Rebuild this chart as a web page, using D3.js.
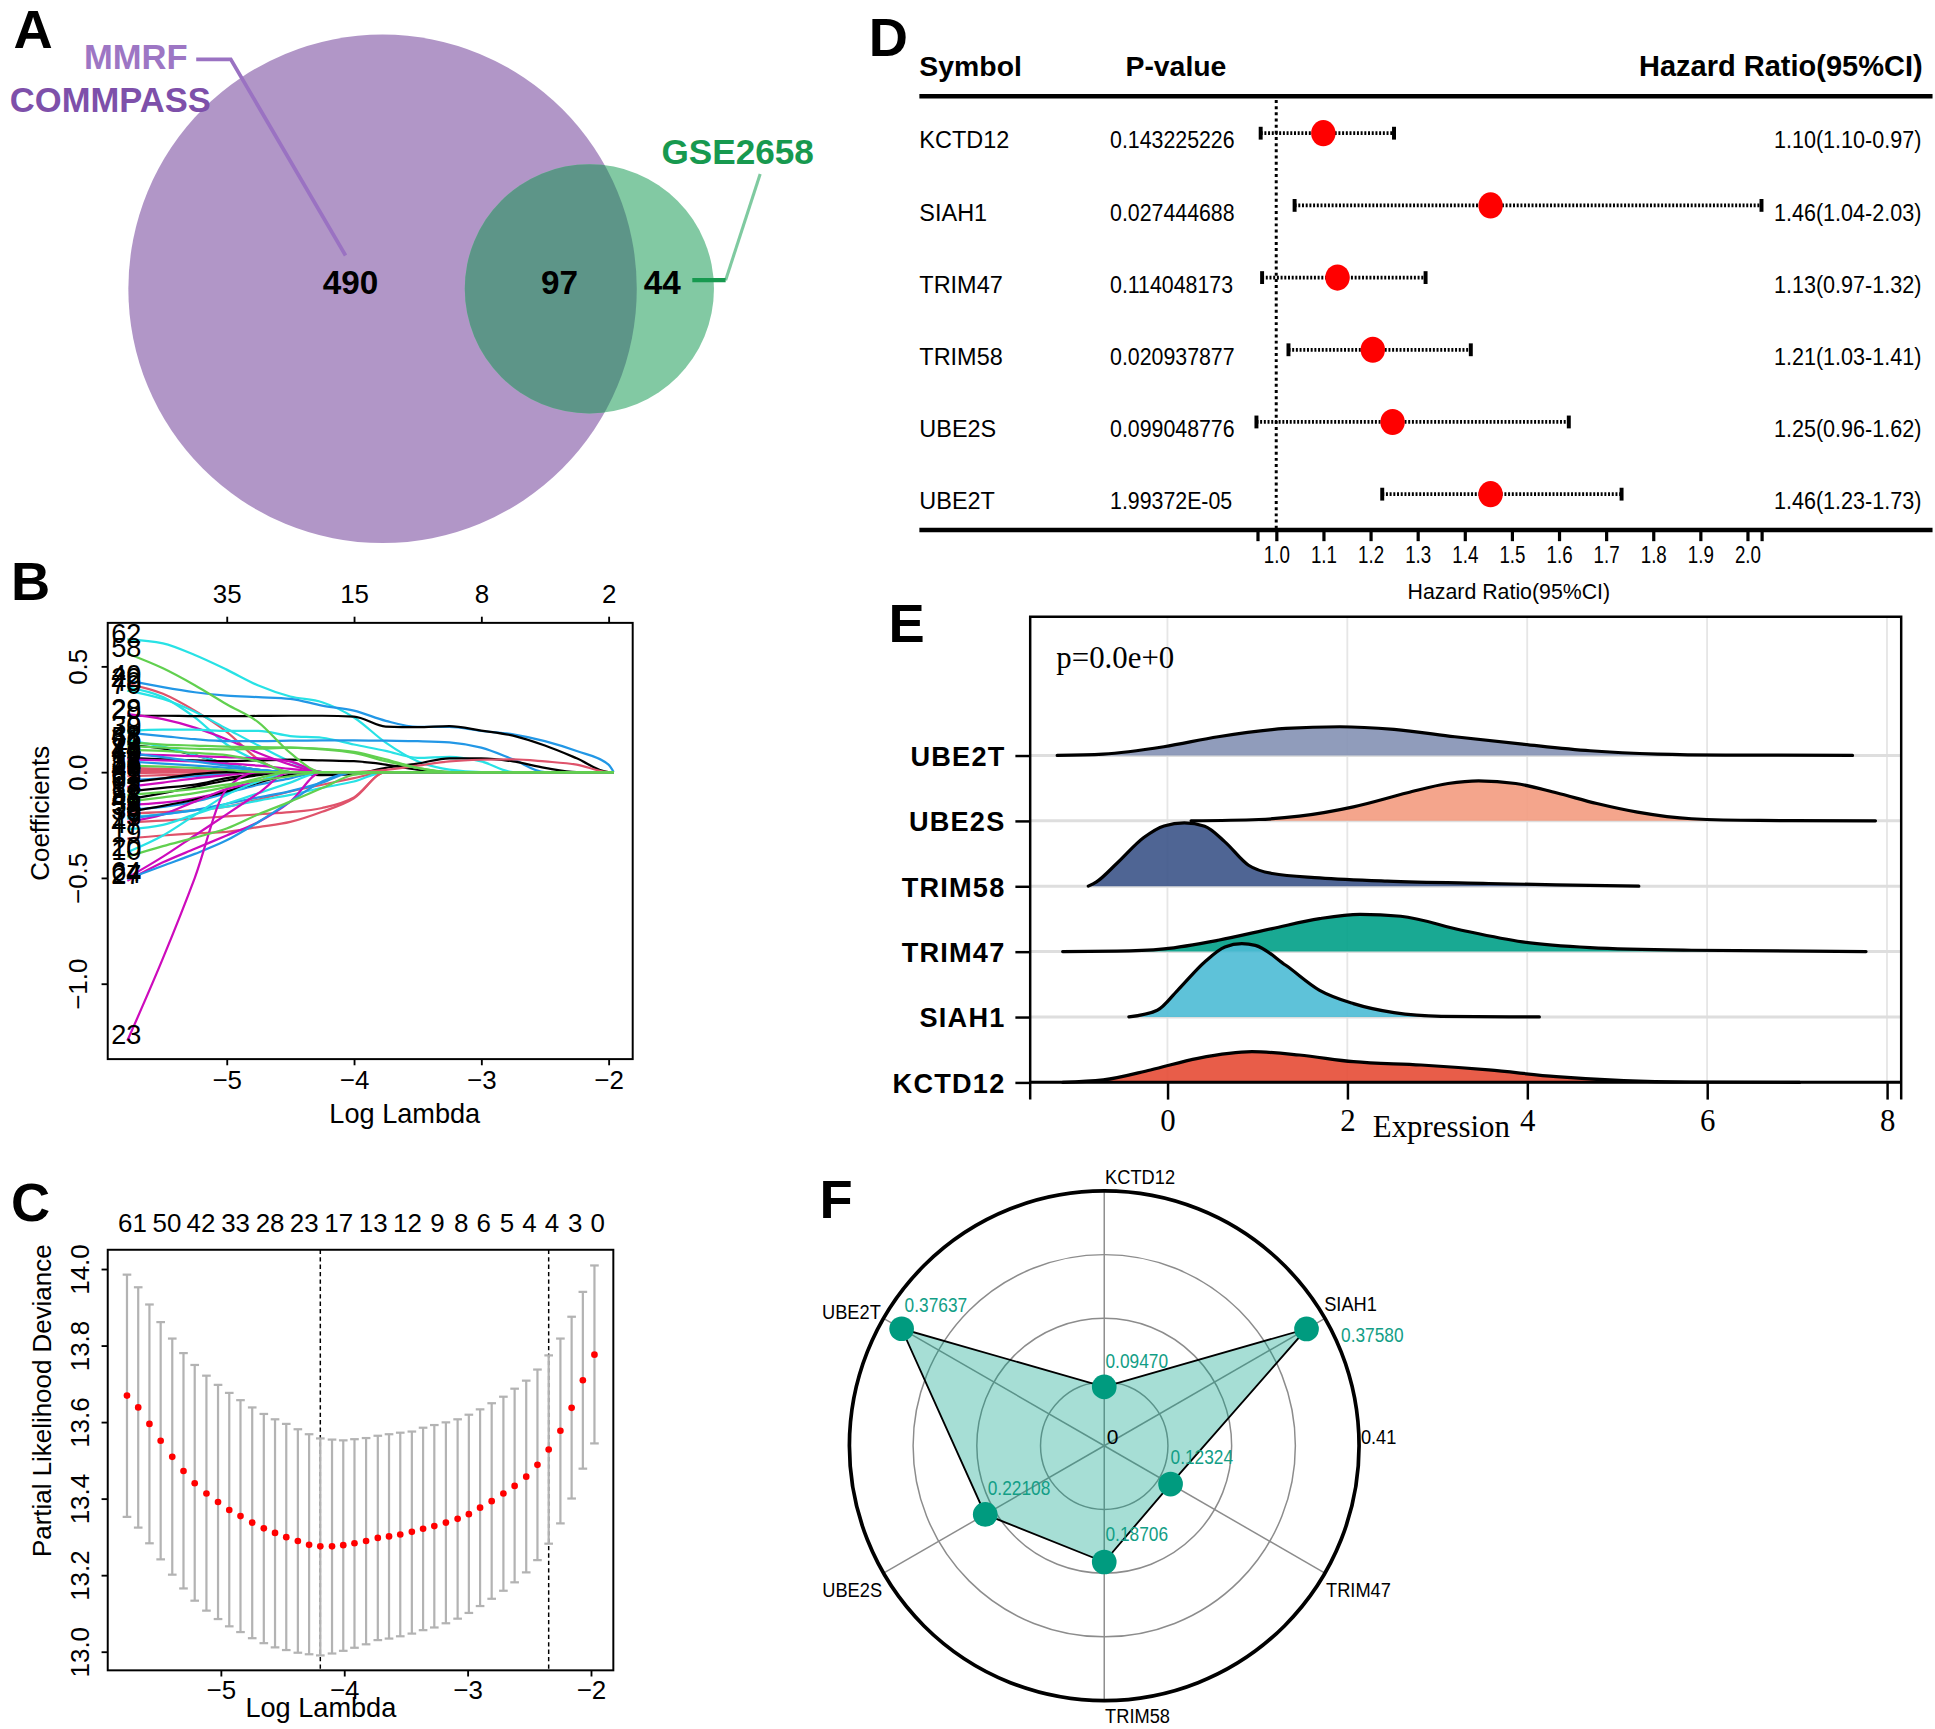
<!DOCTYPE html>
<html>
<head>
<meta charset="utf-8">
<title>Figure</title>
<style>
body { margin: 0; background: #fff; }
</style>
</head>
<body>
<script src="https://cdn.jsdelivr.net/npm/d3@7/dist/d3.min.js"></script>
<script>

// ---------- A : venn ----------
var vennSets   = ["MMRF COMMPASS", "GSE2658"];
var vennCounts = [490, 97, 44];          // only MMRF, both, only GSE2658

// ---------- B : lasso coefficient paths ----------
var bKnots = [-5.78, -5.5, -5.25, -5.0, -4.75, -4.5, -4.25, -4.0, -3.75, -3.5, -3.25, -3.0, -2.75, -2.5, -2.25, -2.0, -1.96];
var bTopTicks  = [-5, -4, -3, -2];
var bTopLabels = ["35", "15", "8", "2"];
var bLabels = ["62","22","40","49","70","29","28","30","8","66","42","45","17","36","44","9","33","51","2","65",
               "14","26","48","18","41","54","59","52","61","57","5","35","15","7","6","47","19","20","27","24",
               "64","23","3","53","12","31","38","10","58","11"];
var bColorIdx = [4,1,3,4,4,0,5,4,3,0,4,0,0,1,5,5,1,1,3,3,
                 3,1,1,0,5,3,0,0,5,0,1,4,5,1,3,4,1,4,5,3,
                 5,5,2,2,2,2,2,2,2,2];
var bCoefs = [
  [0.627,0.608,0.553,0.484,0.409,0.357,0.330,0.258,0.139,0.051,0.011,0],
  [0.417,0.37,0.29,0.19,0.06,0],
  [0.433,0.401,0.377,0.361,0.354,0.346,0.314,0.29,0.242,0.213,0.213,0.194,0.178,0.146,0.099,0.035,0],
  [0.40,0.354,0.258,0.13,0.051,0],
  [0.385,0.345,0.285,0.205,0.125,0.05,0],
  [0.266,0.266,0.264,0.264,0.265,0.266,0.266,0.262,0.215,0.212,0.217,0.196,0.172,0.125,0.065,0],
  [0.274,0.25,0.21,0.155,0.09,0.035,0],
  [0.194,0.2,0.2,0.194,0.194,0.17,0.162,0.13,0.1,0.067,0.072,0.05,0],
  [0.186,0.17,0.155,0.146,0.146,0.148,0.15,0.15,0.148,0.146,0.14,0.115,0.06,0],
  [0.13,0.11,0.08,0.04,0.01,0],
  [0.15,0.12,0.08,0.04,0.01,0],
  [0.067,0.06,0.055,0.051,0.055,0.059,0.055,0.051,0.035,0.011,0],
  [0.011,0.008,0.005,0.003,0.001,0,-0.015,-0.01,0.02,0.04,0.065,0.064,0.05,0.02,0],
  [0.01,0.008,0.005,0.003,0,0,0,0,0.01,0.03,0.05,0.058,0.06,0.05,0.035,0],
  [0.083,0.08,0.075,0.07,0.065,0.05,0],
  [0.06,0.055,0.05,0.04,0.03,0.015,0],
  [0.02,0.015,0.01,0.005,0],
  [-0.02,-0.015,-0.01,0],
  [0.05,0.04,0.03,0.02,0.01,0],
  [-0.04,-0.03,-0.02,-0.01,0],
  [0.09,0.07,0.05,0.03,0.01,0],
  [0.005,0.003,0],
  [-0.005,-0.003,0],
  [-0.092,-0.075,-0.06,-0.029,-0.01,0],
  [-0.156,-0.145,-0.124,-0.09,-0.045,0],
  [-0.18,-0.165,-0.14,-0.1,-0.06,-0.03,0],
  [-0.188,-0.16,-0.13,-0.092,-0.05,-0.013,0],
  [-0.13,-0.1,-0.07,-0.04,-0.015,0],
  [-0.07,-0.05,-0.03,-0.015,0],
  [-0.05,-0.03,-0.01,0],
  [-0.196,-0.19,-0.18,-0.164,-0.13,-0.092,-0.06,-0.029,0],
  [-0.212,-0.2,-0.18,-0.164,-0.135,-0.108,-0.075,-0.045,0],
  [-0.236,-0.2,-0.14,-0.08,-0.045,0],
  [-0.238,-0.23,-0.22,-0.21,-0.2,-0.19,-0.17,-0.12,0],
  [-0.22,-0.2,-0.18,-0.15,-0.12,-0.09,-0.05,0],
  [-0.27,-0.25,-0.2,-0.15,-0.1,-0.05,0],
  [-0.315,-0.3,-0.29,-0.283,-0.26,-0.236,-0.188,-0.124,0],
  [-0.379,-0.3,-0.204,-0.108,-0.045,0],
  [-0.514,-0.427,-0.363,-0.3,-0.236,-0.14,0],
  [-0.506,-0.443,-0.387,-0.323,-0.236,-0.14,-0.045,0],
  [-0.5,-0.4,-0.3,-0.2,-0.1,0],
  [-1.27,-0.88,-0.5,-0.08,0],
  [0.105,0.1,0.09,0.08,0.05,0],
  [0.14,0.13,0.125,0.12,0.118,0.115,0.11,0.095,0.06,0.02,0],
  [-0.108,-0.095,-0.08,-0.06,-0.04,-0.02,0],
  [0.03,0.025,0.02,0.01,0],
  [-0.14,-0.12,-0.1,-0.07,-0.03,0],
  [-0.40,-0.35,-0.31,-0.267,-0.2,-0.14,-0.076,-0.013,0],
  [0.56,0.49,0.41,0.32,0.235,0.09,0],
  [0.123,0.115,0.11,0.107,0.11,0.115,0.107,0.09,0.051,0.019,0]
];

// ---------- C : cross-validation deviance ----------
var cLogLambda = [-5.76,-5.669,-5.578,-5.487,-5.393,-5.302,-5.211,-5.116,-5.022,-4.931,-4.84,-4.745,-4.651,-4.56,
                  -4.469,-4.375,-4.284,-4.193,-4.098,-4.007,-3.916,-3.822,-3.727,-3.636,-3.545,-3.451,-3.36,-3.269,
                  -3.175,-3.08,-2.989,-2.898,-2.804,-2.709,-2.618,-2.524,-2.433,-2.342,-2.247,-2.156,-2.065,-1.971];
var cMean  = [13.669,13.638,13.595,13.551,13.509,13.472,13.440,13.413,13.391,13.370,13.354,13.337,13.322,13.310,
              13.299,13.289,13.279,13.275,13.275,13.278,13.283,13.289,13.297,13.301,13.306,13.313,13.321,13.328,
              13.337,13.347,13.359,13.376,13.393,13.413,13.433,13.457,13.488,13.528,13.577,13.637,13.709,13.776];
var cUpper = [13.985,13.952,13.907,13.861,13.818,13.780,13.749,13.721,13.697,13.676,13.657,13.638,13.621,13.607,
              13.595,13.581,13.568,13.557,13.554,13.552,13.555,13.558,13.564,13.568,13.572,13.575,13.585,13.592,
              13.599,13.607,13.619,13.633,13.649,13.666,13.687,13.708,13.737,13.774,13.818,13.875,13.940,14.009];
var cLower = [13.352,13.324,13.283,13.241,13.201,13.165,13.133,13.107,13.085,13.066,13.051,13.035,13.022,13.011,
              13.004,12.997,12.993,12.990,12.995,13.002,13.010,13.019,13.030,13.034,13.040,13.047,13.056,13.063,
              13.074,13.086,13.101,13.119,13.138,13.159,13.181,13.207,13.239,13.282,13.335,13.400,13.478,13.544];
var cTopPos    = [-5.716,-5.436,-5.16,-4.88,-4.6,-4.324,-4.044,-3.764,-3.487,-3.244,-3.05,-2.869,-2.68,-2.498,-2.316,-2.127,-1.945];
var cTopLabels = ["61","50","42","33","28","23","17","13","12","9","8","6","5","4","4","3","0"];
var cLambdaMin = -4.193, cLambda1se = -2.342;

// ---------- D : forest plot ----------
var dSymbols = ["KCTD12","SIAH1","TRIM47","TRIM58","UBE2S","UBE2T"];
var dPvalues = ["0.143225226","0.027444688","0.114048173","0.020937877","0.099048776","1.99372E-05"];
var dHR   = [1.10, 1.455, 1.13, 1.205, 1.247, 1.455];
var dLow  = [0.967, 1.039, 0.97, 1.026, 0.958, 1.225];
var dHigh = [1.25, 2.03, 1.317, 1.413, 1.621, 1.733];
var dHRText = ["1.10(1.10-0.97)","1.46(1.04-2.03)","1.13(0.97-1.32)","1.21(1.03-1.41)","1.25(0.96-1.62)","1.46(1.23-1.73)"];
var dTicks = [0.96,1.0,1.1,1.2,1.3,1.4,1.5,1.6,1.7,1.8,1.9,2.0,2.03];

// ---------- E : ridge densities ----------
var eGenes  = ["KCTD12","SIAH1","TRIM47","TRIM58","UBE2S","UBE2T"];   // bottom to top
var eLabels = ["KCTD12","SIAH1","TRIM47","TRIM58","UBE2S","UBE2T"];
var eColors = ["#E64B35","#4DBBD5","#00A087","#3C5488","#F39B7F","#8491B4"];
var kctd12X = [-1.165,-0.714,-0.188,0.338,0.94,1.466,2.068,2.82,3.571,4.323,5.075,5.827,7.03];
var kctd12D = [0,0.036,0.189,0.367,0.469,0.418,0.316,0.265,0.189,0.087,0.026,0.005,0];
var siah1X  = [-0.429,-0.113,0.113,0.414,0.639,0.827,0.977,1.316,1.692,2.068,2.519,3.045,4.135];
var siah1D  = [0,0.102,0.408,0.842,1.071,1.122,1.097,0.791,0.408,0.204,0.066,0.01,0];
var trim47X = [-1.165,-0.564,-0.038,0.564,1.165,1.692,2.143,2.594,3.271,3.947,4.699,5.827,7.767];
var trim47D = [0,0.005,0.041,0.173,0.352,0.505,0.571,0.541,0.327,0.148,0.061,0.02,0];
var trim58X = [-0.88,-0.789,-0.564,-0.263,-0.038,0.188,0.414,0.639,0.902,1.165,1.692,2.444,3.571,4.323,5.241];
var trim58D = [0,0.066,0.347,0.745,0.923,0.969,0.918,0.679,0.321,0.194,0.128,0.077,0.041,0.02,0];
var ube2sX  = [0.263,1.015,1.466,2.068,2.669,3.12,3.459,3.872,4.323,4.774,5.226,5.827,6.579,7.872];
var ube2sD  = [0,0.02,0.071,0.214,0.429,0.571,0.612,0.571,0.429,0.265,0.133,0.031,0.005,0];
var ube2tX  = [-1.226,-0.714,-0.04,0.564,1.316,1.917,2.519,3.195,3.947,4.699,5.451,6.203,7.617];
var ube2tD  = [0,0.02,0.133,0.286,0.413,0.439,0.398,0.286,0.173,0.071,0.02,0.005,0];
var eTicks = [0, 2, 4, 6, 8];
var ePText = "p=0.0e+0";

// ---------- F : radar ----------
var fGenes  = ["KCTD12","SIAH1","TRIM47","TRIM58","UBE2S","UBE2T"];
var fValues = [0.09470, 0.37580, 0.12324, 0.18706, 0.22108, 0.37637];
var fMax = 0.41;

// ====================================================================
var SANS  = '"Liberation Sans", Arial, Helvetica, sans-serif';
var SERIF = '"Liberation Serif", "Times New Roman", serif';

var svg = d3.select("body").append("svg")
    .attr("width", 1935).attr("height", 1729)
    .attr("viewBox", "0 0 1568 1401")
    .style("font-family", SANS);
svg.append("rect").attr("width", 1568).attr("height", 1401).attr("fill", "#fff");

// squeeze text horizontally (narrow fonts in the original)
function condense(sel, f) {
  sel.each(function() {
    var L = this.getComputedTextLength();
    d3.select(this).attr("textLength", L * f).attr("lengthAdjust", "spacingAndGlyphs");
  });
}

// panel letters
[["A",11,39],["B",9,486],["C",9,989],["D",704,45],["E",720,520],["F",664,987]].forEach(function(p) {
  svg.append("text").attr("x", p[1]).attr("y", p[2]).text(p[0])
     .attr("font-size", 44).attr("font-weight", "bold");
});

// ---------------- A ----------------
(function() {
  var g = svg.append("g");
  var totA = vennCounts[0] + vennCounts[1], totB = vennCounts[1] + vennCounts[2];
  var rs = d3.scaleSqrt().domain([0, totA]).range([0, 206]);
  var rA = rs(totA), rB = rs(totB);
  function lens(r1, r2, d) {
    if (d >= r1 + r2) return 0;
    if (d <= Math.abs(r1 - r2)) return Math.PI * Math.min(r1, r2) * Math.min(r1, r2);
    var a = r1 * r1 * Math.acos((d * d + r1 * r1 - r2 * r2) / (2 * d * r1));
    var b = r2 * r2 * Math.acos((d * d + r2 * r2 - r1 * r1) / (2 * d * r2));
    var c = 0.5 * Math.sqrt((-d + r1 + r2) * (d + r1 - r2) * (d - r1 + r2) * (d + r1 + r2));
    return a + b - c;
  }
  var target = Math.PI * rA * rA * vennCounts[1] / totA;
  var lo = rA - rB, hi = rA + rB;
  for (var k = 0; k < 60; k++) {
    var mid = (lo + hi) / 2;
    if (lens(rA, rB, mid) > target) lo = mid; else hi = mid;
  }
  var dist = (lo + hi) / 2;
  var ax = 310, ay = 234, bx2 = ax + dist;

  g.append("clipPath").attr("id", "clipVennA")
   .append("circle").attr("cx", ax).attr("cy", ay).attr("r", rA);
  g.append("circle").attr("cx", ax).attr("cy", ay).attr("r", rA).attr("fill", "#b196c7");
  g.append("circle").attr("cx", bx2).attr("cy", ay).attr("r", rB).attr("fill", "#82c9a3");
  g.append("circle").attr("cx", bx2).attr("cy", ay).attr("r", rB).attr("fill", "#5d9588")
   .attr("clip-path", "url(#clipVennA)");

  g.selectAll("text.num").data(vennCounts).enter().append("text")
    .attr("x", function(d, i) { return [ax - 26, (bx2 - rB + ax + rA) / 2 + 7, bx2 + 59][i]; })
    .attr("y", 238).attr("text-anchor", "middle")
    .attr("font-size", 27).attr("font-weight", "bold").text(function(d) { return d; });

  var nm = vennSets[0].split(" ");
  g.append("text").attr("x", 68).attr("y", 56).text(nm[0])
    .attr("font-size", 28).attr("font-weight", "bold").attr("fill", "#9d76c4");
  g.append("text").attr("x", 8).attr("y", 91).text(nm[1])
    .attr("font-size", 28).attr("font-weight", "bold").attr("fill", "#7e50aa");
  g.append("text").attr("x", 536).attr("y", 133).text(vennSets[1])
    .attr("font-size", 28.5).attr("font-weight", "bold").attr("fill", "#17994f");

  g.append("path").attr("d", "M159,48 L187,48 L280,207")
   .attr("fill", "none").attr("stroke", "#9a72c2").attr("stroke-width", 3);
  g.append("path").attr("d", "M616,141 L588,227")
   .attr("fill", "none").attr("stroke", "#7fcaa0").attr("stroke-width", 2.5);
  g.append("path").attr("d", "M588,227 L561,227")
   .attr("fill", "none").attr("stroke", "#17994f").attr("stroke-width", 3.5);
})();

// helper: R-like rotated left axis
function rLeftAxis(g, scale, x0, vals, fmt, fs, off) {
  var a = g.append("g").attr("transform", "translate(" + x0 + ",0)")
    .call(d3.axisLeft(scale).tickValues(vals).tickSize(5).tickFormat(fmt));
  a.select(".domain").remove();
  a.attr("font-family", null).attr("font-size", fs);
  a.selectAll("line").attr("stroke-width", 1.5);
  a.selectAll("text").attr("x", null).attr("dy", null).attr("text-anchor", "middle")
    .attr("transform", "translate(" + (-off) + ",0) rotate(-90)");
  return a;
}
function rBottomAxis(g, scale, y0, vals, fmt, fs, pad) {
  var a = g.append("g").attr("transform", "translate(0," + y0 + ")")
    .call(d3.axisBottom(scale).tickValues(vals).tickSize(5).tickPadding(pad).tickFormat(fmt));
  a.select(".domain").remove();
  a.attr("font-family", null).attr("font-size", fs);
  a.selectAll("line").attr("stroke-width", 1.5);
  return a;
}

// ---------------- B ----------------
(function() {
  var g = svg.append("g");
  var L = 87.3, R = 512.7, T = 504.7, B = 858.2;
  var x = d3.scaleLinear().domain([-5.934, -1.81]).range([L, R]);
  var y = d3.scaleLinear().domain([-1.357, 0.705]).range([B, T]);
  var pal = ["#000000", "#DF536B", "#61D04F", "#2297E6", "#28E2E5", "#CD0BBC"];

  g.append("clipPath").attr("id", "clipB").append("rect")
   .attr("x", L).attr("y", T).attr("width", R - L).attr("height", B - T);
  var line = d3.line().x(function(d) { return x(d[0]); }).y(function(d) { return y(d[1]); })
    .curve(d3.curveMonotoneX);
  var lg = g.append("g").attr("clip-path", "url(#clipB)");
  bCoefs.forEach(function(vals, i) {
    var pts = bKnots.map(function(k, j) { return [k, j < vals.length ? vals[j] : 0]; });
    lg.append("path").attr("d", line(pts)).attr("fill", "none")
      .attr("stroke", pal[bColorIdx[i]]).attr("stroke-width", 1.8);
  });
  lg.selectAll("text.lab").data(bCoefs).enter().append("text")
    .attr("x", 114.5).attr("y", function(d) { return y(d[0]) - 5; }).attr("dy", "0.36em")
    .attr("text-anchor", "end").attr("font-size", 22)
    .text(function(d, i) { return bLabels[i]; });

  g.append("rect").attr("x", L).attr("y", T).attr("width", R - L).attr("height", B - T)
   .attr("fill", "none").attr("stroke", "#000").attr("stroke-width", 1.6);

  rBottomAxis(g, x, B, [-5, -4, -3, -2], d3.format("d"), 21, 4);
  var top = g.append("g").attr("transform", "translate(0," + T + ")")
    .call(d3.axisTop(x).tickValues(bTopTicks).tickSize(5).tickPadding(11)
      .tickFormat(function(d, i) { return bTopLabels[i]; }));
  top.select(".domain").remove();
  top.attr("font-family", null).attr("font-size", 21);
  top.selectAll("line").attr("stroke-width", 1.5);
  rLeftAxis(g, y, L, [-1, -0.5, 0, 0.5], d3.format(".1f"), 21, 16.5);

  g.append("text").attr("x", 328).attr("y", 910).attr("text-anchor", "middle")
   .attr("font-size", 22).text("Log Lambda");
  g.append("text").attr("transform", "translate(40,659) rotate(-90)").attr("text-anchor", "middle")
   .attr("font-size", 21).text("Coefficients");
})();

// ---------------- C ----------------
(function() {
  var g = svg.append("g");
  var L = 87.3, R = 497, T = 1012.7, B = 1353.5;
  var x = d3.scaleLinear().domain([-5.916, -1.818]).range([L, R]);
  var y = d3.scaleLinear().domain([12.951, 14.05]).range([B, T]);

  g.selectAll("line.lam").data([cLambdaMin, cLambda1se]).enter().append("line")
   .attr("x1", function(d) { return x(d); }).attr("x2", function(d) { return x(d); })
   .attr("y1", T).attr("y2", B).attr("stroke", "#000").attr("stroke-width", 1.2)
   .attr("stroke-dasharray", "3.5,2.5");

  var eb = g.selectAll("g.eb").data(cLogLambda).enter().append("g");
  eb.append("line").attr("x1", function(d) { return x(d); }).attr("x2", function(d) { return x(d); })
    .attr("y1", function(d, i) { return y(cUpper[i]); }).attr("y2", function(d, i) { return y(cLower[i]); })
    .attr("stroke", "#b3b3b3").attr("stroke-width", 1.8);
  [cUpper, cLower].forEach(function(arr) {
    eb.append("line").attr("x1", function(d) { return x(d) - 3.5; }).attr("x2", function(d) { return x(d) + 3.5; })
      .attr("y1", function(d, i) { return y(arr[i]); }).attr("y2", function(d, i) { return y(arr[i]); })
      .attr("stroke", "#b3b3b3").attr("stroke-width", 1.8);
  });
  g.selectAll("circle.pt").data(cLogLambda).enter().append("circle")
   .attr("cx", function(d) { return x(d); }).attr("cy", function(d, i) { return y(cMean[i]); })
   .attr("r", 2.7).attr("fill", "#ff0000");

  g.append("rect").attr("x", L).attr("y", T).attr("width", R - L).attr("height", B - T)
   .attr("fill", "none").attr("stroke", "#000").attr("stroke-width", 1.6);

  g.selectAll("text.top").data(cTopPos).enter().append("text")
   .attr("x", function(d) { return x(d); }).attr("y", 998).attr("text-anchor", "middle")
   .attr("font-size", 21).text(function(d, i) { return cTopLabels[i]; });

  rBottomAxis(g, x, B, [-5, -4, -3, -2], d3.format("d"), 21, 3);
  rLeftAxis(g, y, L, [13.0, 13.2, 13.4, 13.6, 13.8, 14.0], d3.format(".1f"), 21, 15.5);

  g.append("text").attr("x", 260).attr("y", 1391).attr("text-anchor", "middle")
   .attr("font-size", 22).text("Log Lambda");
  g.append("text").attr("transform", "translate(41.5,1135) rotate(-90)").attr("text-anchor", "middle")
   .attr("font-size", 21).text("Partial Likelihood Deviance");
})();

// ---------------- D ----------------
(function() {
  var g = svg.append("g");
  var x = d3.scaleLinear().domain([0.96, 2.03]).range([1018.9, 1427.4]);
  var y = d3.scalePoint().domain(dSymbols).range([107.9, 400.4]);

  g.append("text").attr("x", 745).attr("y", 61.5).attr("font-size", 23).attr("font-weight", "bold").text("Symbol");
  g.append("text").attr("x", 912).attr("y", 61.5).attr("font-size", 23).attr("font-weight", "bold").text("P-value");
  g.append("text").attr("x", 1558).attr("y", 61.5).attr("text-anchor", "end")
    .attr("font-size", 23.5).attr("font-weight", "bold").text("Hazard Ratio(95%CI)");

  g.append("line").attr("x1", 745).attr("x2", 1566).attr("y1", 78).attr("y2", 78)
   .attr("stroke", "#000").attr("stroke-width", 3.6);
  g.append("line").attr("x1", 745).attr("x2", 1566).attr("y1", 429.4).attr("y2", 429.4)
   .attr("stroke", "#000").attr("stroke-width", 3.6);
  g.append("line").attr("x1", x(1)).attr("x2", x(1)).attr("y1", 81).attr("y2", 428)
   .attr("stroke", "#000").attr("stroke-width", 2.4).attr("stroke-dasharray", "2.4,2.6");

  var rows = g.selectAll("g.row").data(dSymbols).enter().append("g");
  rows.append("text").attr("x", 745).attr("y", function(d) { return y(d) + 12.3; })
      .attr("font-size", 19).text(function(d) { return d; });
  var pv = rows.append("text").attr("x", 899.5).attr("y", function(d) { return y(d) + 12.3; })
      .attr("font-size", 19).text(function(d, i) { return dPvalues[i]; });
  condense(pv, 0.91);
  var hr = rows.append("text").attr("x", 1557).attr("y", function(d) { return y(d) + 12.3; })
      .attr("text-anchor", "end").attr("font-size", 19).text(function(d, i) { return dHRText[i]; });
  condense(hr, 0.92);

  rows.append("line").attr("x1", function(d, i) { return x(dLow[i]); }).attr("x2", function(d, i) { return x(dHigh[i]); })
      .attr("y1", function(d) { return y(d); }).attr("y2", function(d) { return y(d); })
      .attr("stroke", "#000").attr("stroke-width", 3).attr("stroke-dasharray", "1.6,1.4");
  [dLow, dHigh].forEach(function(arr) {
    rows.append("line").attr("x1", function(d, i) { return x(arr[i]); }).attr("x2", function(d, i) { return x(arr[i]); })
        .attr("y1", function(d) { return y(d) - 5.2; }).attr("y2", function(d) { return y(d) + 5.2; })
        .attr("stroke", "#000").attr("stroke-width", 3.2);
  });
  rows.append("ellipse").attr("cx", function(d, i) { return x(dHR[i]); }).attr("cy", function(d) { return y(d); })
      .attr("rx", 9.9).attr("ry", 10.6).attr("fill", "#ff0000");

  var a = g.append("g").attr("transform", "translate(0,431)")
    .call(d3.axisBottom(x).tickValues(dTicks).tickSize(7.5).tickPadding(4)
      .tickFormat(function(d) { return (d === 0.96 || d === 2.03) ? "" : d.toFixed(1); }));
  a.select(".domain").remove();
  a.attr("font-family", null).attr("font-size", 19);
  a.selectAll("line").attr("stroke-width", 2.6);
  condense(a.selectAll("text"), 0.8);

  var t = g.append("text").attr("x", 1222.7).attr("y", 485).attr("text-anchor", "middle")
    .attr("font-size", 18).text("Hazard Ratio(95%CI)");
  condense(t, 0.96);
})();

// ---------------- E ----------------
(function() {
  var g = svg.append("g");
  var L = 834.8, R = 1540.6, T = 499.7, B = 877;
  var x = d3.scaleLinear().domain([-1.526, 8.158]).range([L, R]);
  var y = d3.scalePoint().domain(eGenes).range([B, 612.1]);
  var hgt = d3.scaleLinear().domain([0, 1]).range([0, 52.9]);
  var dens = {
    KCTD12: [kctd12X, kctd12D], SIAH1: [siah1X, siah1D], TRIM47: [trim47X, trim47D],
    TRIM58: [trim58X, trim58D], UBE2S: [ube2sX, ube2sD], UBE2T: [ube2tX, ube2tD]
  };

  // grid
  g.selectAll("line.vg").data(eTicks).enter().append("line")
   .attr("x1", function(d) { return x(d); }).attr("x2", function(d) { return x(d); })
   .attr("y1", T).attr("y2", B).attr("stroke", "#e6e6e6").attr("stroke-width", 1.5);
  g.selectAll("line.hg").data(eGenes).enter().append("line")
   .attr("x1", L).attr("x2", R).attr("y1", function(d) { return y(d); }).attr("y2", function(d) { return y(d); })
   .attr("stroke", "#dedede").attr("stroke-width", 2.4);

  // ridges, top row first so lower rows overlap
  eGenes.slice().reverse().forEach(function(gene) {
    var i = eGenes.indexOf(gene);
    var base = y(gene);
    var pts = dens[gene][0].map(function(v, j) { return [v, dens[gene][1][j]]; });
    var area = d3.area().x(function(d) { return x(d[0]); }).y0(base)
      .y1(function(d) { return base - hgt(d[1]); }).curve(d3.curveMonotoneX);
    var line = d3.line().x(function(d) { return x(d[0]); })
      .y(function(d) { return base - hgt(d[1]); }).curve(d3.curveMonotoneX);
    g.append("path").attr("d", area(pts)).attr("fill", eColors[i]).attr("fill-opacity", 0.9);
    g.append("path").attr("d", line(pts)).attr("fill", "none").attr("stroke", "#000")
     .attr("stroke-width", 2.6).attr("stroke-linecap", "round");
  });

  // frame and axes
  g.append("path").attr("d", "M" + L + "," + (B + 14) + " L" + L + "," + T + " L" + R + "," + T + " L" + R + "," + (B + 14))
   .attr("fill", "none").attr("stroke", "#000").attr("stroke-width", 2);
  g.append("line").attr("x1", L).attr("x2", R).attr("y1", B).attr("y2", B)
   .attr("stroke", "#000").attr("stroke-width", 2.4);

  var ax = g.append("g").attr("transform", "translate(0," + B + ")")
    .call(d3.axisBottom(x).tickValues(eTicks).tickSize(14).tickPadding(8).tickFormat(d3.format("d")));
  ax.select(".domain").remove();
  ax.attr("font-family", SERIF).attr("font-size", 25);
  ax.selectAll("line").attr("stroke-width", 2);

  var ay = g.append("g").attr("transform", "translate(" + L + ",0)")
    .call(d3.axisLeft(y).tickSize(12).tickPadding(8).tickFormat(function(d, i) { return eLabels[i]; }));
  ay.select(".domain").remove();
  ay.attr("font-family", null).attr("font-size", 22).attr("font-weight", "bold");
  ay.selectAll("line").attr("stroke-width", 2);
  ay.selectAll("text").attr("dy", "0.36em").attr("letter-spacing", 1);

  g.append("text").attr("x", 856).attr("y", 541).attr("font-family", SERIF).attr("font-size", 25).text(ePText);
  g.append("text").attr("x", 1168).attr("y", 921).attr("text-anchor", "middle")
   .attr("font-family", SERIF).attr("font-size", 25).text("Expression");
})();

// ---------------- F ----------------
(function() {
  var g = svg.append("g").attr("transform", "translate(894.8,1171.5)");
  var R = 206.5;
  var r = d3.scaleLinear().domain([0, fMax]).range([0, R]);
  var ang = function(i) { return i * 2 * Math.PI / fGenes.length; };
  var axisDx = [0.7, -0.6, 0.9, 0.7, -1.2, -2.2];
  var axisDy = [-5.7, -5.6, 19, 18.5, 19, 0.5];
  var valDx  = [1, 28, 0, 1, 2, 2.4];
  var valDy  = [-15, 10.6, -16, -17, -16, -14];

  g.selectAll("circle.grid").data([1, 2, 3]).enter().append("circle")
   .attr("r", function(d) { return r(fMax * d / 4); })
   .attr("fill", "none").attr("stroke", "#8c8c8c").attr("stroke-width", 1.2);
  g.selectAll("line.spoke").data(fGenes).enter().append("line")
   .attr("x1", 0).attr("y1", 0)
   .attr("x2", function(d, i) { return R * Math.sin(ang(i)); })
   .attr("y2", function(d, i) { return -R * Math.cos(ang(i)); })
   .attr("stroke", "#8c8c8c").attr("stroke-width", 1.2);

  var radial = d3.lineRadial().angle(function(d, i) { return ang(i); })
    .radius(function(d) { return r(d); }).curve(d3.curveLinearClosed);
  g.append("path").attr("d", radial(fValues)).attr("fill", "#00A087").attr("fill-opacity", 0.35)
   .attr("stroke", "#000").attr("stroke-width", 1.5);

  g.append("circle").attr("r", R).attr("fill", "none").attr("stroke", "#000").attr("stroke-width", 3);

  g.selectAll("circle.pt").data(fValues).enter().append("circle")
   .attr("cx", function(d, i) { return r(d) * Math.sin(ang(i)); })
   .attr("cy", function(d, i) { return -r(d) * Math.cos(ang(i)); })
   .attr("r", 10).attr("fill", "#009b7f");

  var vl = g.selectAll("text.val").data(fValues).enter().append("text")
   .attr("x", function(d, i) { return r(d) * Math.sin(ang(i)) + valDx[i]; })
   .attr("y", function(d, i) { return -r(d) * Math.cos(ang(i)) + valDy[i]; })
   .attr("font-size", 16.5).attr("fill", "#139e86")
   .text(function(d) { return d.toFixed(5); });
  condense(vl, 0.85);

  var al = g.selectAll("text.ax").data(fGenes).enter().append("text")
   .attr("x", function(d, i) { return R * Math.sin(ang(i)) + axisDx[i]; })
   .attr("y", function(d, i) { return -R * Math.cos(ang(i)) + axisDy[i]; })
   .attr("text-anchor", function(d, i) { return Math.sin(ang(i)) < -0.01 ? "end" : "start"; })
   .attr("font-size", 17).text(function(d) { return d; });
  condense(al, 0.87);

  g.append("text").attr("x", 2).attr("y", -1.5).attr("font-size", 17).text("0");
  var m = g.append("text").attr("x", R + 1.5).attr("y", -1.5).attr("font-size", 17).text(String(fMax));
  condense(m, 0.87);
})();

</script>
</body>
</html>
